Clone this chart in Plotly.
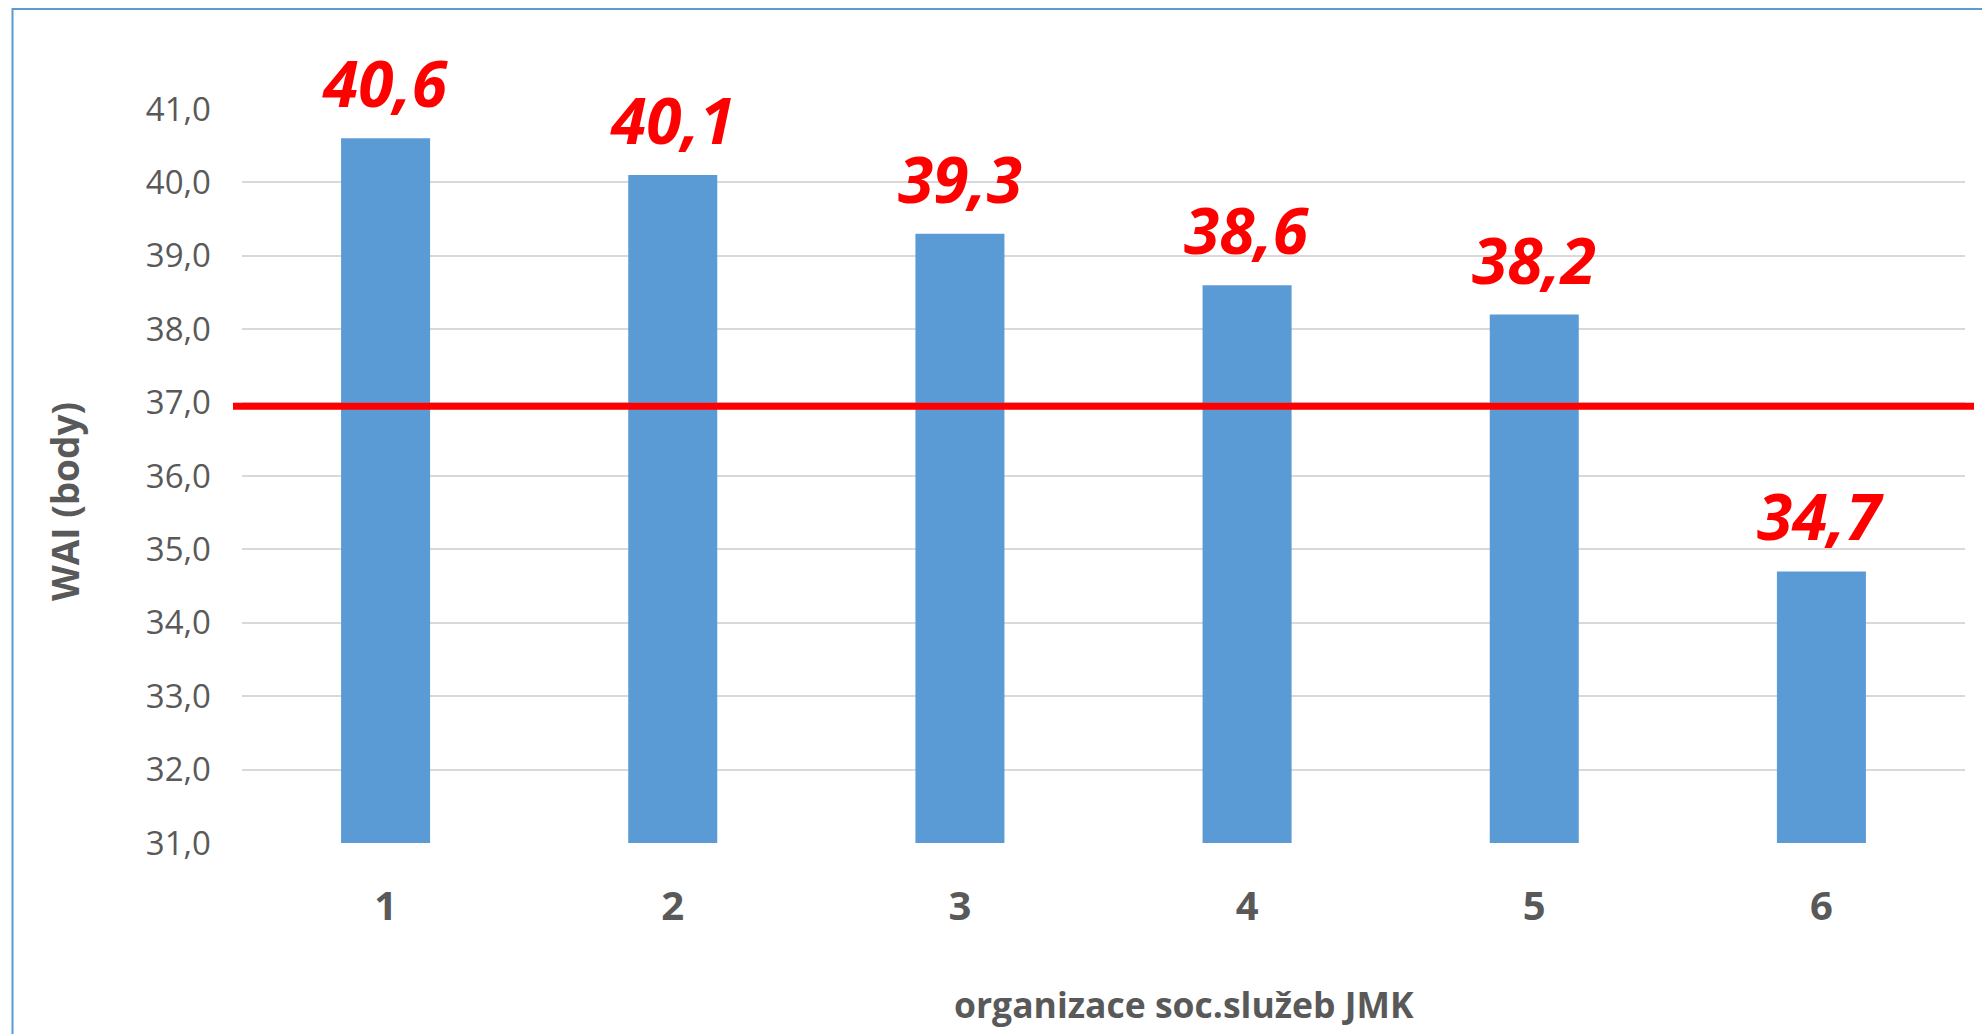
import plotly.graph_objects as go

# Work Ability Index by social-services organisation
categories = ["1", "2", "3", "4", "5", "6"]
wai_scores = [40.6, 40.1, 39.3, 38.6, 38.2, 34.7]
reference_level = 36.95
y_ticks = [31, 32, 33, 34, 35, 36, 37, 38, 39, 40, 41]

FONT = "'Open Sans', sans-serif"
GREY = "#595959"
BAR = "#5B9BD5"

W, H = 1982, 1034
L, R, T, B = 242, 17, 109, 191
PW, PH = W - L - R, H - T - B


def px_x(p):
    return (p - L) / PW


def px_y(p):
    return (H - B - p) / PH


def fmt(v):
    return f"{v:.1f}".replace(".", ",")


fig = go.Figure()
fig.add_trace(go.Bar(
    x=categories, y=wai_scores,
    marker=dict(color=BAR, line=dict(width=0)),
    width=0.31,
    hoverinfo="skip",
))

# value labels above the bars (positioned by category index)
for i, v in enumerate(wai_scores):
    fig.add_annotation(
        x=i, y=v, xref="x", yref="y", text=fmt(v), showarrow=False,
        yanchor="bottom", yshift=10,
        font=dict(family=FONT, size=64, color="#FF0000", weight="bold", style="italic"),
    )

# axis titles
fig.add_annotation(
    x=px_x(64), y=px_y(502), xref="paper", yref="paper", text="WAI (body)",
    textangle=-90, showarrow=False, xanchor="center", yanchor="middle",
    font=dict(family=FONT, size=37, color=GREY, weight="bold"),
)
fig.add_annotation(
    x=px_x(1184), y=px_y(1004), xref="paper", yref="paper",
    text="organizace soc.služeb JMK", showarrow=False,
    xanchor="center", yanchor="middle",
    font=dict(family=FONT, size=35.5, color=GREY, weight="bold"),
)

# reference line
fig.add_shape(
    type="line", xref="paper", yref="y",
    x0=px_x(233), x1=px_x(1974), y0=reference_level, y1=reference_level,
    line=dict(color="#FF0000", width=7), layer="above",
)

# chart frame
fig.add_shape(
    type="rect", xref="paper", yref="paper",
    x0=px_x(12.5), x1=px_x(2100), y0=px_y(9), y1=px_y(1100),
    line=dict(color=BAR, width=2), fillcolor="rgba(0,0,0,0)", layer="below",
)

fig.update_layout(
    width=W, height=H,
    margin=dict(l=L, r=R, t=T, b=B),
    paper_bgcolor="white", plot_bgcolor="white",
    separators=", ",
    showlegend=False,
    bargap=0.69,
    font=dict(family=FONT, color=GREY),
)
fig.update_xaxes(
    type="category", range=[-0.5, 5.5],
    showgrid=False, showline=False, zeroline=False,
    tickfont=dict(family=FONT, size=40, color=GREY, weight="bold"),
    ticks="", ticklabelstandoff=36,
)
fig.update_yaxes(
    range=[31, 41], tickvals=y_ticks, tickformat=".1f",
    showgrid=True, gridcolor="#D9D9D9", gridwidth=1.5,
    zeroline=False, showline=False, ticks="",
    tickfont=dict(family=FONT, size=33, color=GREY),
    ticklabelstandoff=30,
)

fig.write_html("out.html")
